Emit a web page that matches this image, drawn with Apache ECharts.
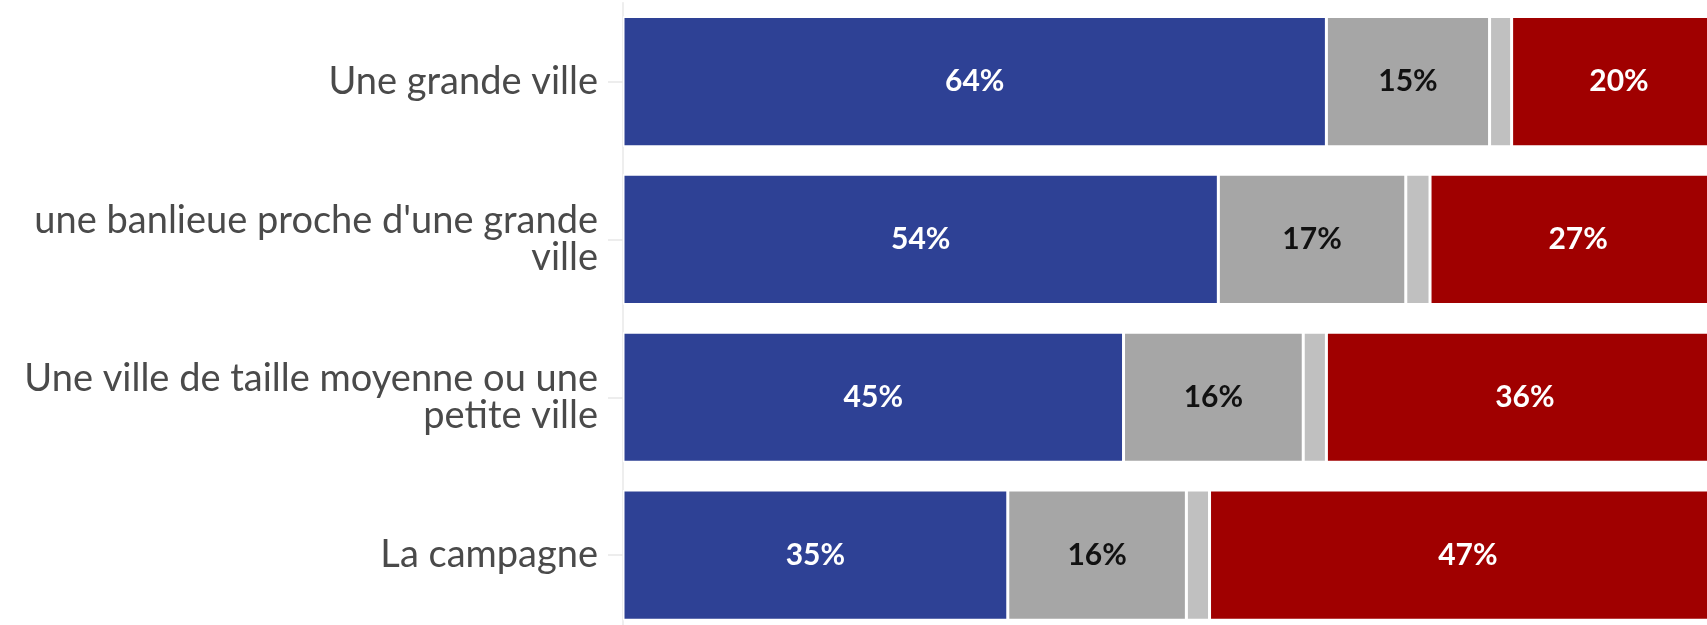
<!DOCTYPE html>
<html>
<head>
<meta charset="utf-8">
<script src="https://cdn.jsdelivr.net/npm/echarts@6/dist/echarts.min.js"></script>
<style>
html,body{margin:0;padding:0;background:#fff;}
#chart{width:1707px;height:625px;}
</style>
</head>
<body>
<div id="chart"></div>
<script>
const categories = [
  "Une grande ville",
  "une banlieue proche d'une grande ville",
  "Une ville de taille moyenne ou une petite ville",
  "La campagne"
];
const blueValues = [63.8, 54.0, 45.4, 34.9];
const grayValues = [14.8, 17.0, 16.3, 16.2];
const lightGrayValues = [2.0, 2.2, 2.1, 2.1];
const redValues = [20, 27, 36, 47];

const AXIS_FONT = 38;
const AXIS_FAMILY = 'Lato';
const WRAP_WIDTH = 590;

// word wrap without trailing spaces
const measureCtx = document.createElement('canvas').getContext('2d');
measureCtx.font = AXIS_FONT + 'px ' + AXIS_FAMILY;
function wrapLabel(text) {
  const words = text.split(' ');
  const lines = [];
  let cur = '';
  words.forEach(w => {
    const test = cur ? cur + ' ' + w : w;
    if (cur && measureCtx.measureText(test).width > WRAP_WIDTH) {
      lines.push(cur);
      cur = w;
    } else {
      cur = test;
    }
  });
  if (cur) lines.push(cur);
  return lines.join('\n');
}

const chart = echarts.init(document.getElementById('chart'), null, {renderer: 'canvas'});

function labelCfg(color) {
  return {
    show: true,
    position: 'inside',
    color: color,
    fontFamily: 'Lato',
    fontWeight: 'bold',
    fontSize: 30,
    formatter: p => Math.round(p.value) + '%'
  };
}

function mkSeries(name, data, color, label) {
  return {
    name: name,
    type: 'bar',
    stack: 'total',
    data: data,
    barCategoryGap: '17.5%',
    itemStyle: {color: color, borderColor: '#ffffff', borderWidth: 1.5},
    label: label || {show: false},
    emphasis: {disabled: true}
  };
}

chart.setOption({
  animation: false,
  backgroundColor: '#ffffff',
  grid: {left: 623, right: -18.5, top: 2.7, bottom: -9, containLabel: false, outerBoundsMode: 'none'},
  xAxis: {
    type: 'value', min: 0, max: 100, show: false
  },
  yAxis: {
    type: 'category',
    inverse: true,
    data: categories,
    axisLine: {show: true, lineStyle: {color: '#e8e8e8', width: 1.5}},
    axisTick: {show: true, alignWithLabel: true, length: 15, lineStyle: {color: '#e8e8e8', width: 1.5}},
    axisLabel: {
      margin: 25,
      fontFamily: AXIS_FAMILY,
      fontSize: AXIS_FONT,
      color: '#4a4a4a',
      lineHeight: 37,
      align: 'right',
      formatter: v => wrapLabel(v)
    }
  },
  series: [
    mkSeries('blue', blueValues, '#2e4195', labelCfg('#ffffff')),
    mkSeries('gray', grayValues, '#a6a6a6', labelCfg('#111111')),
    mkSeries('lightgray', lightGrayValues, '#c0c0c0'),
    mkSeries('red', redValues, '#a00000', labelCfg('#ffffff'))
  ]
});
</script>
</body>
</html>
